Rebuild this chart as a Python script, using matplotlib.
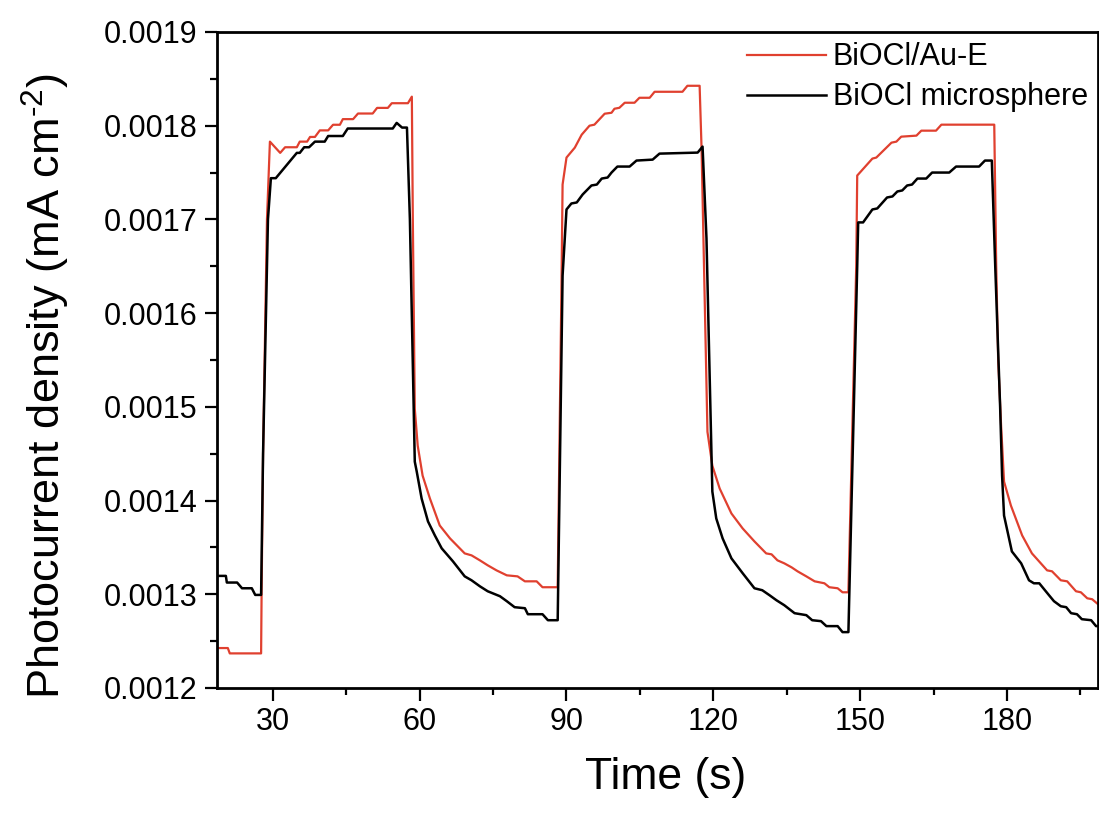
import numpy as np
import matplotlib
matplotlib.use('Agg')
import matplotlib.pyplot as plt
from matplotlib.ticker import MultipleLocator, FormatStrFormatter

plt.rcParams['font.family'] = ['Liberation Sans', 'DejaVu Sans']
plt.rcParams['mathtext.fontset'] = 'custom'
plt.rcParams['mathtext.rm'] = 'Liberation Sans'

# BiOCl/Au-E (red)
t_au = [18.6, 20.8, 21.2, 27.6, 27.7, 28.0, 28.8, 29.4, 31.5, 32.5, 34.9, 35.5, 37.0, 37.6, 38.6,
        39.6, 41.3, 42.3, 43.7, 44.3, 46.4, 47.4, 50.4, 51.3, 53.5, 54.3, 57.6, 58.4, 58.6,
        59.0, 59.6, 60.6, 62.1, 64.1, 66.2, 69.2, 70.6, 72.3, 73.9, 75.7, 77.8, 80.0, 81.5,
        83.9, 85.1, 88.2,
        89.0, 89.2, 90.0, 91.7, 93.1, 94.7, 95.7, 97.8, 99.2, 99.8, 100.8, 101.9, 103.9, 104.9,
        107.0, 108.0, 113.7, 114.7, 117.2, 117.6,
        118.8, 119.8, 121.3, 123.7, 126.0, 128.4, 130.8, 131.9, 133.1, 134.5, 136.0, 137.2,
        139.0, 140.7, 142.7, 143.7, 145.4, 146.4, 147.6,
        149.2, 149.4, 152.5, 153.3, 156.4, 157.4, 158.4, 161.5, 162.5, 165.5, 166.6, 177.4,
        177.8, 178.2, 178.8, 179.4, 180.8, 183.1, 185.1, 188.2, 189.2, 191.0, 192.3, 194.1,
        195.1, 196.4, 197.4, 198.6]
j_au = [0.0012426, 0.0012426, 0.0012369, 0.0012369, 0.00130, 0.00145, 0.00170, 0.001783, 0.001771,
        0.001777, 0.001777, 0.001783, 0.001783, 0.001788, 0.001788,
        0.001795, 0.001795, 0.001801, 0.001801, 0.001807, 0.001807, 0.001813, 0.001813, 0.001819,
        0.001819, 0.001824, 0.001824, 0.001831, 0.00170,
        0.0014979, 0.0014585, 0.0014266, 0.0014021, 0.0013734, 0.0013596, 0.0013436, 0.0013415,
        0.0013362, 0.0013309, 0.0013255, 0.0013202, 0.0013191, 0.0013138,
        0.0013138, 0.0013075, 0.0013075,
        0.00164, 0.0017372, 0.001766, 0.0017766, 0.0017904, 0.0018000, 0.0018011, 0.0018128,
        0.0018138, 0.0018181, 0.0018191, 0.0018245, 0.0018245, 0.0018298,
        0.0018298, 0.0018362, 0.0018362, 0.0018426, 0.0018426, 0.001775,
        0.0014734, 0.0014372, 0.0014128, 0.0013862, 0.0013702, 0.0013564, 0.0013436, 0.0013426,
        0.0013362, 0.0013330, 0.0013287, 0.0013245,
        0.0013191, 0.0013138, 0.0013117, 0.0013075, 0.0013064, 0.0013021, 0.0013021,
        0.00165, 0.0017468, 0.0017649, 0.001766, 0.0017819, 0.001783, 0.0017883, 0.0017894,
        0.0017947, 0.0017947, 0.0018011, 0.0018011,
        0.00165, 0.00155, 0.0014798, 0.0014202, 0.0013947, 0.0013628, 0.0013436, 0.0013255,
        0.0013245, 0.0013149, 0.0013138, 0.0013032,
        0.0013021, 0.0012957, 0.0012947, 0.0012894]

# BiOCl microsphere (black)
t_ms = [18.6, 20.4, 20.6, 22.7, 23.7, 25.7, 26.4, 27.6, 28.0, 29.0, 29.6, 30.6, 34.9, 35.5,
        36.4, 37.4, 38.6, 40.6, 41.3, 44.3, 45.3, 54.5, 55.3, 56.4, 57.4, 58.0,
        59.0, 59.4, 60.4, 61.7, 63.1, 64.5, 66.8, 69.2, 70.6, 72.3, 73.9, 76.4, 77.8, 79.4,
        81.5, 82.1, 85.1, 86.2, 88.2,
        89.2, 90.0, 91.0, 92.1, 93.3, 95.1, 96.2, 97.2, 98.4, 99.2, 100.4, 102.9, 104.3, 107.6,
        109.0, 116.8, 117.8, 118.6,
        119.8, 120.6, 121.9, 123.7, 126.0, 128.4, 130.0, 131.5, 132.9, 134.5, 136.6, 139.0,
        140.2, 142.0, 143.1, 145.4, 146.4, 147.6,
        149.4, 149.6, 150.6, 152.5, 153.5, 155.5, 156.6, 157.6, 158.6, 159.6, 160.6, 161.7,
        163.5, 164.7, 168.2, 169.6, 174.3, 175.5, 176.9, 177.6, 178.6,
        179.0, 179.4, 181.0, 182.9, 184.5, 185.5, 186.6, 188.6, 189.6, 191.0, 192.1, 193.1,
        194.3, 195.3, 197.2, 198.2, 198.6]
j_ms = [0.0013196, 0.0013196, 0.0013125, 0.0013125, 0.0013064, 0.0013064, 0.0012993, 0.0012993,
        0.00145, 0.00170, 0.001744, 0.001744, 0.001771, 0.001771,
        0.001777, 0.001777, 0.001783, 0.001783, 0.001789, 0.001789, 0.001797, 0.001797, 0.001803,
        0.001798, 0.001798, 0.00170,
        0.0014415, 0.0014309, 0.0014021, 0.0013777, 0.0013628, 0.0013490, 0.0013351, 0.0013191,
        0.0013149, 0.0013085, 0.0013032, 0.0012979, 0.0012926, 0.0012862,
        0.0012851, 0.0012787, 0.0012787, 0.0012723, 0.0012723,
        0.00164, 0.0017106, 0.0017170, 0.0017181, 0.0017266, 0.0017362, 0.0017372, 0.0017436,
        0.0017447, 0.0017500, 0.0017564, 0.0017564, 0.0017628, 0.0017638,
        0.0017702, 0.0017713, 0.0017777, 0.00168,
        0.0014096, 0.0013809, 0.0013596, 0.0013383, 0.0013224, 0.0013064, 0.0013043, 0.0012989,
        0.0012936, 0.0012883, 0.0012798, 0.0012777,
        0.0012723, 0.0012713, 0.0012660, 0.0012660, 0.0012596, 0.0012596,
        0.00165, 0.0016968, 0.0016968, 0.0017106, 0.0017117, 0.0017234, 0.0017245, 0.0017298,
        0.0017309, 0.0017362, 0.0017372, 0.0017436,
        0.0017436, 0.0017500, 0.0017500, 0.0017564, 0.0017564, 0.0017628, 0.0017628, 0.00165,
        0.00150,
        0.0014266, 0.0013840, 0.0013457, 0.0013330, 0.0013149, 0.0013117, 0.0013117, 0.0012989,
        0.0012926, 0.0012872, 0.0012862, 0.0012798,
        0.0012787, 0.0012734, 0.0012723, 0.0012660, 0.0012660]

fig = plt.figure(figsize=(10.99, 8.16), dpi=100)
ax = fig.add_axes([0.1975, 0.1569, 0.8016, 0.8039])

ax.plot(t_au, j_au, color='#E0402F', lw=1.6, label='BiOCl/Au-E')
ax.plot(t_ms, j_ms, color='black', lw=1.8, label='BiOCl microsphere')

ax.set_xlim(18.6, 198.6)
ax.set_ylim(0.0012, 0.0019)
ax.xaxis.set_major_locator(MultipleLocator(30))
ax.xaxis.set_minor_locator(MultipleLocator(15))
ax.yaxis.set_major_locator(MultipleLocator(0.0001))
ax.yaxis.set_minor_locator(MultipleLocator(0.00005))
ax.yaxis.set_major_formatter(FormatStrFormatter('%.4f'))

for s in ax.spines.values():
    s.set_linewidth(2.0)
ax.tick_params(which='major', direction='out', length=9, width=1.6, labelsize=22, pad=5)
ax.tick_params(which='minor', direction='out', length=5, width=1.6)

ax.set_xlabel('Time (s)', fontsize=32)
ax.set_ylabel('Photocurrent density (mA cm$^{\u2010 2}$)', fontsize=32.5)
ax.xaxis.set_label_coords(0.509, -0.105)
ax.yaxis.set_label_coords(-0.165, 0.46)

ax.legend(loc='upper left', bbox_to_anchor=(0.6016, 0.984), frameon=False, fontsize=22,
          handlelength=2.6, handletextpad=0.2, labelspacing=0.32, borderpad=0, borderaxespad=0)

fig.savefig('out.png', dpi=100)
